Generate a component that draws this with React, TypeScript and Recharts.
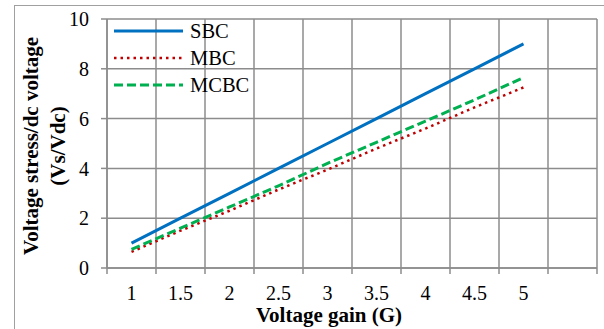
import { LineChart, Line, XAxis, YAxis, CartesianGrid } from 'recharts'

const gains = [1, 1.5, 2, 2.5, 3, 3.5, 4, 4.5, 5]
const sbc = [1, 2, 3, 4, 5, 6, 7, 8, 9]
const mbc = [0.65, 1.5, 2.3, 3.15, 3.95, 4.8, 5.6, 6.45, 7.25]
const mcbc = [0.75, 1.6, 2.45, 3.3, 4.2, 5.05, 5.9, 6.75, 7.65]

// excel-style category edges (grid sits between categories, one empty slot at the end)
const edgeTicks = [0.75, 1.25, 1.75, 2.25, 2.75, 3.25, 3.75, 4.25, 4.75, 5.25, 5.75]
const yTicks = [0, 2, 4, 6, 8, 10]

const series = [
  { key: 'SBC', color: '#0070C0', width: 3, dash: undefined as string | undefined },
  { key: 'MBC', color: '#C00000', width: 2.5, dash: '2.5 4' },
  { key: 'MCBC', color: '#00B050', width: 3, dash: '9 4' },
]

const data = gains.map((g, i) => ({ g, SBC: sbc[i], MBC: mbc[i], MCBC: mcbc[i] }))

const font = 'Liberation Serif, Times New Roman, serif'
const gridColor = '#8c8c8c'

const XTick = (p: any) => (
  <text x={p.x} y={p.y} dy="0.71em" textAnchor="middle" fontSize={20} fontFamily={font} fill="#000">
    {p.payload.value}
  </text>
)

const YTick = (p: any) => (
  <text x={p.x} y={p.y} dy="0.355em" textAnchor="end" fontSize={20} fontFamily={font} fill="#000">
    {p.payload.value}
  </text>
)

const titleText = { fontSize: 21, fontFamily: font, fontWeight: 'bold' as const, fill: '#000' }

export default function App() {
  return (
    <div style={{ position: 'absolute', left: 0, top: 0, width: 604, height: 329, overflow: 'hidden', background: '#fff' }}>
      <div style={{ position: 'absolute', left: 14, top: 5, width: 700, height: 400, borderLeft: '1.5px solid #a0a0a0', borderTop: '1.5px solid #a0a0a0' }} />
      <LineChart width={604} height={329} data={data} margin={{ top: 19, right: 7, left: 0, bottom: 25 }}>
        <CartesianGrid xAxisId="grid" stroke={gridColor} strokeWidth={1.5} />
        <XAxis
          xAxisId="grid"
          type="number"
          dataKey="g"
          domain={[0.75, 5.75]}
          ticks={edgeTicks}
          tickFormatter={() => ''}
          height={6}
          tickSize={6}
          axisLine={{ stroke: gridColor, strokeWidth: 1.5 }}
          tickLine={{ stroke: gridColor, strokeWidth: 1.5 }}
        />
        <XAxis
          xAxisId="lbl"
          type="number"
          dataKey="g"
          domain={[0.75, 5.75]}
          ticks={gains}
          height={30}
          tickSize={0}
          tickMargin={12}
          axisLine={false}
          tickLine={false}
          tick={XTick}
        />
        <YAxis
          type="number"
          domain={[0, 10]}
          ticks={yTicks}
          width={107}
          tickSize={6}
          tickMargin={12}
          axisLine={{ stroke: gridColor, strokeWidth: 1.5 }}
          tickLine={{ stroke: gridColor, strokeWidth: 1.5 }}
          tick={YTick}
        />
        {series.map((s) => (
          <Line
            key={s.key}
            xAxisId="lbl"
            type="linear"
            dataKey={s.key}
            stroke={s.color}
            strokeWidth={s.width}
            strokeDasharray={s.dash}
            dot={false}
            activeDot={false}
            isAnimationActive={false}
          />
        ))}
      </LineChart>

      {/* legend + axis titles */}
      <svg style={{ position: 'absolute', left: 0, top: 0 }} width={604} height={329}>
        {series.map((s, i) => (
          <g key={s.key}>
            <line x1={114} x2={183} y1={31 + i * 27} y2={31 + i * 27} stroke={s.color} strokeWidth={s.width} strokeDasharray={s.dash} />
            <text x={190} y={31 + i * 27} dy="0.35em" fontSize={20.5} fontFamily={font} fill="#000">
              {s.key}
            </text>
          </g>
        ))}
        <g transform="translate(38, 146) rotate(-90)">
          <text x={0} y={0} textAnchor="middle" {...titleText}>
            Voltage stress/dc voltage
          </text>
          <text x={0} y={27} textAnchor="middle" {...titleText}>
            (Vs/Vdc)
          </text>
        </g>
        <text x={329} y={322} textAnchor="middle" {...titleText}>
          Voltage gain (G)
        </text>
      </svg>
    </div>
  )
}
